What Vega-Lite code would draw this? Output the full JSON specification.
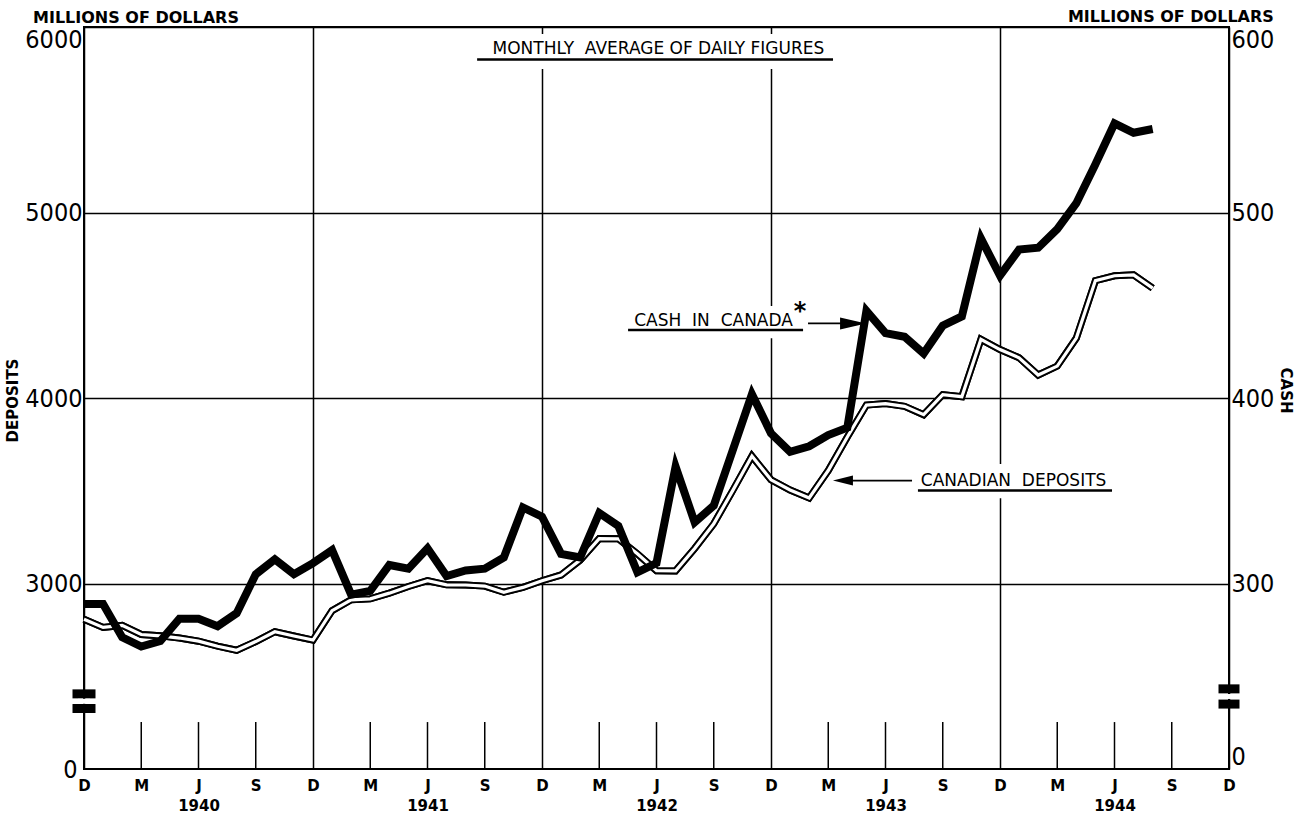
{
  "$schema": "https://vega.github.io/schema/vega-lite/v6.json",
  "width": 1145,
  "height": 742,
  "autosize": {"type": "none"},
  "padding": {"left": 84, "top": 27, "right": 72, "bottom": 46},
  "background": "white",
  "config": {
    "view": {"stroke": "black", "strokeWidth": 2},
    "axis": {"domain": false, "ticks": false, "labelColor": "black", "titleColor": "black", "labelOverlap": false, "labelBound": false}
  },
  "datasets": {
    "series": [
      {"month": "1939-12", "m": 0, "deposits": 2807, "cash": 289},
      {"month": "1940-01", "m": 1, "deposits": 2763, "cash": 289},
      {"month": "1940-02", "m": 2, "deposits": 2774, "cash": 271},
      {"month": "1940-03", "m": 3, "deposits": 2725, "cash": 266},
      {"month": "1940-04", "m": 4, "deposits": 2718, "cash": 269},
      {"month": "1940-05", "m": 5, "deposits": 2706, "cash": 281},
      {"month": "1940-06", "m": 6, "deposits": 2689, "cash": 281},
      {"month": "1940-07", "m": 7, "deposits": 2662, "cash": 277},
      {"month": "1940-08", "m": 8, "deposits": 2640, "cash": 284},
      {"month": "1940-09", "m": 9, "deposits": 2687, "cash": 305},
      {"month": "1940-10", "m": 10, "deposits": 2740, "cash": 313},
      {"month": "1940-11", "m": 11, "deposits": 2717, "cash": 305},
      {"month": "1940-12", "m": 12, "deposits": 2695, "cash": 311},
      {"month": "1941-01", "m": 13, "deposits": 2854, "cash": 318},
      {"month": "1941-02", "m": 14, "deposits": 2912, "cash": 294},
      {"month": "1941-03", "m": 15, "deposits": 2917, "cash": 296},
      {"month": "1941-04", "m": 16, "deposits": 2948, "cash": 310},
      {"month": "1941-05", "m": 17, "deposits": 2984, "cash": 308},
      {"month": "1941-06", "m": 18, "deposits": 3015, "cash": 319},
      {"month": "1941-07", "m": 19, "deposits": 2993, "cash": 304},
      {"month": "1941-08", "m": 20, "deposits": 2992, "cash": 307},
      {"month": "1941-09", "m": 21, "deposits": 2986, "cash": 308},
      {"month": "1941-10", "m": 22, "deposits": 2953, "cash": 314},
      {"month": "1941-11", "m": 23, "deposits": 2979, "cash": 341},
      {"month": "1941-12", "m": 24, "deposits": 3015, "cash": 336},
      {"month": "1942-01", "m": 25, "deposits": 3046, "cash": 316},
      {"month": "1942-02", "m": 26, "deposits": 3126, "cash": 314},
      {"month": "1942-03", "m": 27, "deposits": 3242, "cash": 338},
      {"month": "1942-04", "m": 28, "deposits": 3241, "cash": 331},
      {"month": "1942-05", "m": 29, "deposits": 3160, "cash": 306},
      {"month": "1942-06", "m": 30, "deposits": 3069, "cash": 311},
      {"month": "1942-07", "m": 31, "deposits": 3068, "cash": 363},
      {"month": "1942-08", "m": 32, "deposits": 3189, "cash": 333},
      {"month": "1942-09", "m": 33, "deposits": 3322, "cash": 342},
      {"month": "1942-10", "m": 34, "deposits": 3502, "cash": 372},
      {"month": "1942-11", "m": 35, "deposits": 3687, "cash": 402},
      {"month": "1942-12", "m": 36, "deposits": 3559, "cash": 381},
      {"month": "1943-01", "m": 37, "deposits": 3504, "cash": 371},
      {"month": "1943-02", "m": 38, "deposits": 3461, "cash": 374},
      {"month": "1943-03", "m": 39, "deposits": 3609, "cash": 380},
      {"month": "1943-04", "m": 40, "deposits": 3790, "cash": 384},
      {"month": "1943-05", "m": 41, "deposits": 3962, "cash": 447},
      {"month": "1943-06", "m": 42, "deposits": 3970, "cash": 435},
      {"month": "1943-07", "m": 43, "deposits": 3955, "cash": 433},
      {"month": "1943-08", "m": 44, "deposits": 3910, "cash": 424},
      {"month": "1943-09", "m": 45, "deposits": 4018, "cash": 439},
      {"month": "1943-10", "m": 46, "deposits": 4007, "cash": 444},
      {"month": "1943-11", "m": 47, "deposits": 4316, "cash": 486},
      {"month": "1943-12", "m": 48, "deposits": 4261, "cash": 466},
      {"month": "1944-01", "m": 49, "deposits": 4217, "cash": 480},
      {"month": "1944-02", "m": 50, "deposits": 4124, "cash": 481},
      {"month": "1944-03", "m": 51, "deposits": 4172, "cash": 491},
      {"month": "1944-04", "m": 52, "deposits": 4323, "cash": 505},
      {"month": "1944-05", "m": 53, "deposits": 4633, "cash": 526},
      {"month": "1944-06", "m": 54, "deposits": 4659, "cash": 548},
      {"month": "1944-07", "m": 55, "deposits": 4664, "cash": 543},
      {"month": "1944-08", "m": 56, "deposits": 4592, "cash": 545}
    ],
    "quarters": [
      {"m": 3}, {"m": 6}, {"m": 9}, {"m": 15}, {"m": 18}, {"m": 21},
      {"m": 27}, {"m": 30}, {"m": 33}, {"m": 39}, {"m": 42}, {"m": 45},
      {"m": 51}, {"m": 54}, {"m": 57}
    ]
  },
  "layer": [
    {
      "layer": [
        {
          "data": {"name": "series"},
          "mark": {"type": "line", "color": "black", "strokeWidth": 7, "strokeJoin": "miter", "strokeMiterLimit": 4},
          "encoding": {
            "x": {
              "field": "m", "type": "quantitative",
              "scale": {"domain": [0, 60], "nice": false, "zero": false},
              "axis": {
                "values": [0, 3, 6, 9, 12, 15, 18, 21, 24, 27, 30, 33, 36, 39, 42, 45, 48, 51, 54, 57, 60],
                "title": null,
                "labelExpr": "datum.value % 12 == 0 ? 'D' : datum.value % 12 == 3 ? 'M' : datum.value % 12 == 9 ? 'S' : ['J', '' + (1940 + floor(datum.value / 12))]",
                "labelFont": "DejaVu Sans",
                "labelFontWeight": "bold",
                "labelFontSize": 15,
                "labelLineHeight": 20,
                "labelPadding": 9,
                "labelFlush": false,
                "labelAngle": 0,
                "grid": true,
                "gridColor": "black",
                "gridWidth": 1.5,
                "gridOpacity": {"condition": {"test": "datum.value % 12 == 0", "value": 1}, "value": 0}
              }
            },
            "y": {
              "field": "deposits", "type": "quantitative",
              "scale": {"domain": [2000, 6000], "nice": false, "zero": false},
              "axis": {
                "orient": "left",
                "values": [2000, 3000, 4000, 5000, 6000],
                "format": "d",
                "labelExpr": "datum.value == 2000 ? '0' : datum.label",
                "labelFont": "Liberation Sans Narrow, DejaVu Sans Condensed, sans-serif",
                "labelFontSize": 25,
                "labelPadding": {"condition": {"test": "datum.value == 2000", "value": 7}, "value": 2},
                "labelBaseline": {"condition": {"test": "datum.value == 6000", "value": "top"}, "value": "middle"},
                "grid": true,
                "gridColor": "black",
                "gridWidth": 1.5,
                "gridOpacity": {"condition": {"test": "datum.value == 2000", "value": 0}, "value": 1},
                "title": "DEPOSITS",
                "titleFont": "DejaVu Sans",
                "titleFontWeight": "bold",
                "titleFontSize": 15,
                "titleAngle": 270,
                "titleX": -72,
                "titleY": 373,
                "titleAlign": "center",
                "titleBaseline": "middle"
              }
            }
          }
        },
        {
          "data": {"values": [{}]},
          "mark": {"type": "rect", "color": "white"},
          "encoding": {
            "x": {"datum": 20.3, "type": "quantitative"},
            "x2": {"datum": 39.6},
            "y": {"datum": 5962, "type": "quantitative"},
            "y2": {"datum": 5774}
          }
        },
        {
          "data": {"values": [{}]},
          "mark": {"type": "rect", "color": "white"},
          "encoding": {
            "x": {"datum": 28.3, "type": "quantitative"},
            "x2": {"datum": 37.8},
            "y": {"datum": 4496, "type": "quantitative"},
            "y2": {"datum": 4322}
          }
        },
        {
          "data": {"values": [{}]},
          "mark": {"type": "rect", "color": "white"},
          "encoding": {
            "x": {"datum": 43.5, "type": "quantitative"},
            "x2": {"datum": 54.1},
            "y": {"datum": 3644, "type": "quantitative"},
            "y2": {"datum": 3459}
          }
        },
        {
          "data": {"name": "quarters"},
          "mark": {"type": "rule", "color": "black", "strokeWidth": 1.5},
          "encoding": {
            "x": {"field": "m", "type": "quantitative"},
            "y": {"datum": 2000, "type": "quantitative"},
            "y2": {"datum": 2253}
          }
        },
        {
          "data": {"name": "series"},
          "mark": {"type": "line", "color": "black", "strokeWidth": 7, "strokeJoin": "miter", "strokeMiterLimit": 4},
          "encoding": {
            "x": {"field": "m", "type": "quantitative"},
            "y": {"field": "deposits", "type": "quantitative"}
          }
        },
        {
          "data": {"name": "series"},
          "mark": {"type": "line", "color": "white", "strokeWidth": 3.2, "strokeJoin": "miter", "strokeMiterLimit": 4},
          "encoding": {
            "x": {"field": "m", "type": "quantitative"},
            "y": {"field": "deposits", "type": "quantitative"}
          }
        },
        {
          "data": {"values": [{}]},
          "mark": {"type": "text", "text": "MONTHLY\u00a0\u00a0AVERAGE OF DAILY FIGURES", "font": "DejaVu Sans", "fontSize": 17, "align": "center", "baseline": "alphabetic", "color": "black"},
          "encoding": {
            "x": {"datum": 30.1, "type": "quantitative"},
            "y": {"datum": 5852, "type": "quantitative"}
          }
        },
        {
          "data": {"values": [{}]},
          "mark": {"type": "rule", "color": "black", "strokeWidth": 2.5},
          "encoding": {
            "x": {"datum": 20.6, "type": "quantitative"},
            "x2": {"datum": 39.25},
            "y": {"datum": 5825, "type": "quantitative"}
          }
        },
        {
          "data": {"values": [{}]},
          "mark": {"type": "text", "text": "CASH\u00a0\u00a0IN\u00a0\u00a0CANADA", "font": "DejaVu Sans", "fontSize": 17, "align": "center", "baseline": "alphabetic", "color": "black"},
          "encoding": {
            "x": {"datum": 32.99, "type": "quantitative"},
            "y": {"datum": 4388, "type": "quantitative"}
          }
        },
        {
          "data": {"values": [{}]},
          "mark": {"type": "text", "text": "*", "font": "DejaVu Sans", "fontWeight": "bold", "fontSize": 24, "align": "center", "baseline": "alphabetic", "color": "black"},
          "encoding": {
            "x": {"datum": 37.52, "type": "quantitative"},
            "y": {"datum": 4428, "type": "quantitative"}
          }
        },
        {
          "data": {"values": [{}]},
          "mark": {"type": "rule", "color": "black", "strokeWidth": 2.5},
          "encoding": {
            "x": {"datum": 28.51, "type": "quantitative"},
            "x2": {"datum": 37.68},
            "y": {"datum": 4366, "type": "quantitative"}
          }
        },
        {
          "data": {"values": [{}]},
          "mark": {"type": "rule", "color": "black", "strokeWidth": 1.8},
          "encoding": {
            "x": {"datum": 37.94, "type": "quantitative"},
            "x2": {"datum": 39.9},
            "y": {"datum": 4402, "type": "quantitative"}
          }
        },
        {
          "data": {"values": [{}]},
          "mark": {"type": "point", "shape": "M-1,-0.46L1,0L-1,0.46Z", "size": 676, "filled": true, "color": "black", "opacity": 1, "strokeWidth": 0},
          "encoding": {
            "x": {"datum": 40.3, "type": "quantitative"},
            "y": {"datum": 4402, "type": "quantitative"}
          }
        },
        {
          "data": {"values": [{}]},
          "mark": {"type": "text", "text": "CANADIAN\u00a0\u00a0DEPOSITS", "font": "DejaVu Sans", "fontSize": 17, "align": "center", "baseline": "alphabetic", "color": "black"},
          "encoding": {
            "x": {"datum": 48.71, "type": "quantitative"},
            "y": {"datum": 3527, "type": "quantitative"}
          }
        },
        {
          "data": {"values": [{}]},
          "mark": {"type": "rule", "color": "black", "strokeWidth": 2.5},
          "encoding": {
            "x": {"datum": 43.7, "type": "quantitative"},
            "x2": {"datum": 53.87},
            "y": {"datum": 3501, "type": "quantitative"}
          }
        },
        {
          "data": {"values": [{}]},
          "mark": {"type": "rule", "color": "black", "strokeWidth": 1.8},
          "encoding": {
            "x": {"datum": 40.2, "type": "quantitative"},
            "x2": {"datum": 43.39},
            "y": {"datum": 3555, "type": "quantitative"}
          }
        },
        {
          "data": {"values": [{}]},
          "mark": {"type": "point", "shape": "M1,-0.5L-1,0L1,0.5Z", "size": 400, "filled": true, "color": "black", "opacity": 1, "strokeWidth": 0},
          "encoding": {
            "x": {"datum": 39.77, "type": "quantitative"},
            "y": {"datum": 3555, "type": "quantitative"}
          }
        },
        {
          "data": {"values": [{}]},
          "mark": {"type": "text", "text": "MILLIONS OF DOLLARS", "font": "DejaVu Sans", "fontWeight": "bold", "fontSize": 16, "align": "left", "baseline": "alphabetic", "color": "black"},
          "encoding": {
            "x": {"datum": -2.67, "type": "quantitative"},
            "y": {"datum": 6023, "type": "quantitative"}
          }
        },
        {
          "data": {"values": [{}]},
          "mark": {"type": "text", "text": "MILLIONS OF DOLLARS", "font": "DejaVu Sans", "fontWeight": "bold", "fontSize": 16, "align": "left", "baseline": "alphabetic", "color": "black"},
          "encoding": {
            "x": {"datum": 51.56, "type": "quantitative"},
            "y": {"datum": 6026, "type": "quantitative"}
          }
        },
        {
          "data": {"values": [{}]},
          "mark": {"type": "tick", "orient": "horizontal", "size": 23, "thickness": 9, "color": "black", "opacity": 1},
          "encoding": {
            "x": {"datum": 0, "type": "quantitative"},
            "y": {"datum": 2405, "type": "quantitative"}
          }
        },
        {
          "data": {"values": [{}]},
          "mark": {"type": "tick", "orient": "horizontal", "size": 23, "thickness": 9, "color": "black", "opacity": 1},
          "encoding": {
            "x": {"datum": 0, "type": "quantitative"},
            "y": {"datum": 2326, "type": "quantitative"}
          }
        },
        {
          "data": {"values": [{}]},
          "mark": {"type": "tick", "orient": "horizontal", "size": 12, "thickness": 5, "color": "white", "opacity": 1},
          "encoding": {
            "x": {"datum": 0, "type": "quantitative"},
            "y": {"datum": 2365, "type": "quantitative"}
          }
        },
        {
          "data": {"values": [{}]},
          "mark": {"type": "tick", "orient": "horizontal", "size": 21, "thickness": 9, "color": "black", "opacity": 1},
          "encoding": {
            "x": {"datum": 60, "type": "quantitative"},
            "y": {"datum": 2432, "type": "quantitative"}
          }
        },
        {
          "data": {"values": [{}]},
          "mark": {"type": "tick", "orient": "horizontal", "size": 21, "thickness": 9, "color": "black", "opacity": 1},
          "encoding": {
            "x": {"datum": 60, "type": "quantitative"},
            "y": {"datum": 2350, "type": "quantitative"}
          }
        },
        {
          "data": {"values": [{}]},
          "mark": {"type": "tick", "orient": "horizontal", "size": 12, "thickness": 5, "color": "white", "opacity": 1},
          "encoding": {
            "x": {"datum": 60, "type": "quantitative"},
            "y": {"datum": 2391, "type": "quantitative"}
          }
        }
      ]
    },
    {
      "data": {"name": "series"},
      "mark": {"type": "line", "color": "black", "strokeWidth": 8, "strokeJoin": "miter", "strokeMiterLimit": 4, "strokeCap": "butt"},
      "encoding": {
        "x": {"field": "m", "type": "quantitative"},
        "y": {
          "field": "cash", "type": "quantitative",
          "scale": {"domain": [200, 600], "nice": false, "zero": false},
          "axis": {
            "orient": "right",
            "values": [200, 300, 400, 500, 600],
            "format": "d",
            "labelExpr": "datum.value == 200 ? '0' : datum.label",
            "labelFont": "Liberation Sans Narrow, DejaVu Sans Condensed, sans-serif",
            "labelFontSize": 25,
            "labelPadding": 2,
            "labelFlush": true,
            "grid": false,
            "title": "CASH",
            "titleFont": "DejaVu Sans",
            "titleFontWeight": "bold",
            "titleFontSize": 15,
            "titleAngle": 90,
            "titleX": 56,
            "titleY": 363,
            "titleAlign": "center",
            "titleBaseline": "middle"
          }
        }
      }
    }
  ],
  "resolve": {"scale": {"y": "independent"}, "axis": {"y": "independent"}}
}
